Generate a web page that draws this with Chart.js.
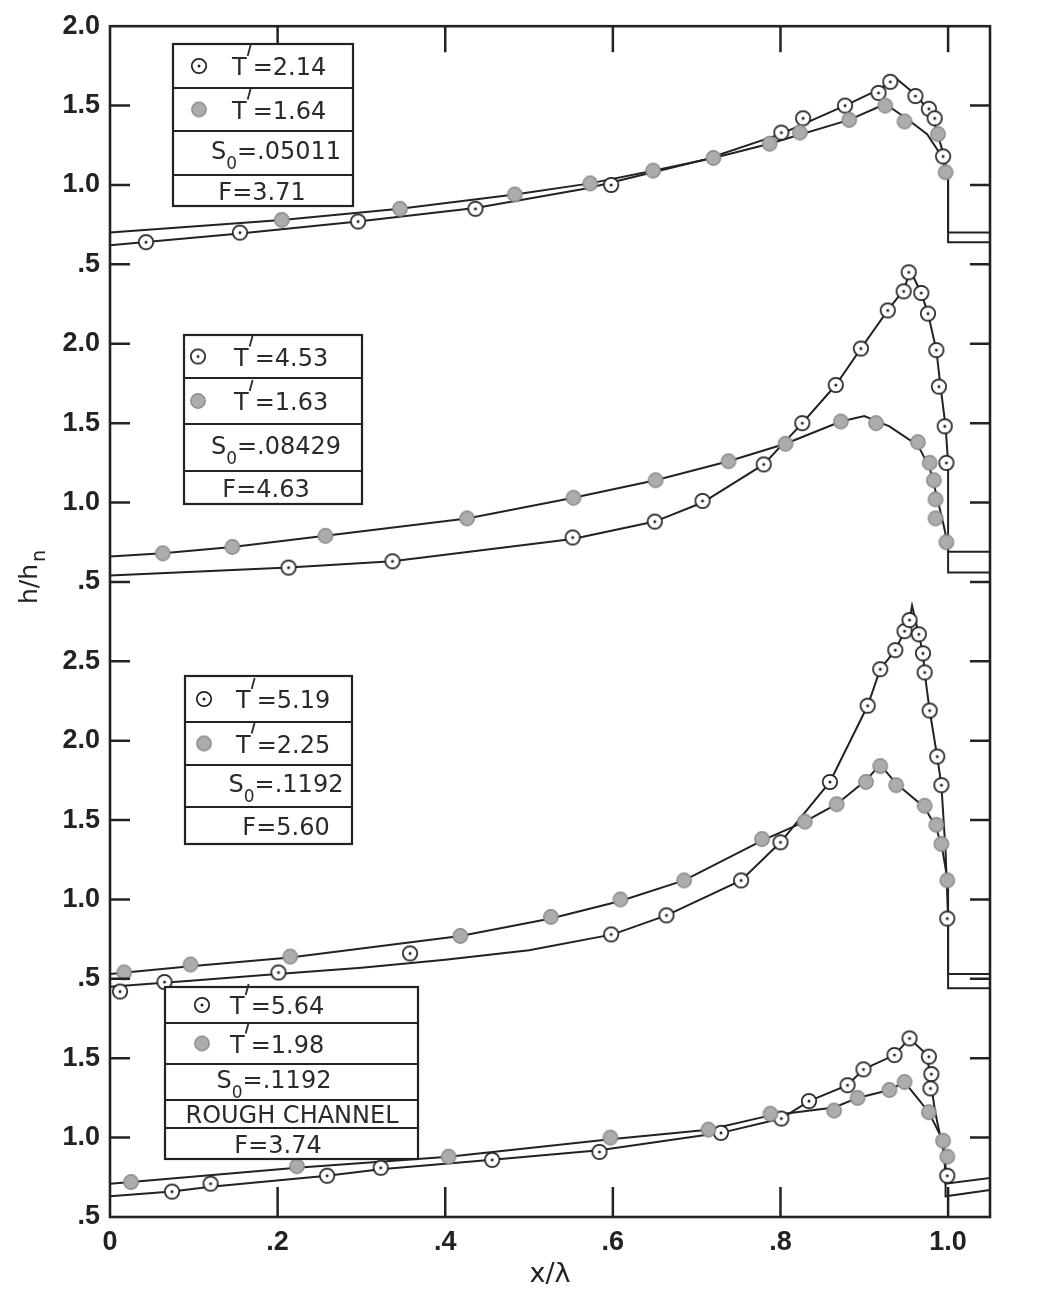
<!DOCTYPE html>
<html>
<head>
<meta charset="utf-8">
<script src="https://cdn.jsdelivr.net/npm/chart.js@4.4.1/dist/chart.umd.min.js"></script>
<style>
  html, body { margin: 0; background: #fff; }
  #wrap { width: 1042px; height: 1300px; }
</style>
</head>
<body>
<div id="wrap"><canvas id="chart" width="1042" height="1300"></canvas></div>
<script>
// x/lambda ticks and the stacked y ticks (bottom -> top, every 0.5 on the shared axis)
const xTicks = [0, 0.2, 0.4, 0.6, 0.8, 1.0];
const xTickLabels = ['0', '.2', '.4', '.6', '.8', '1.0'];
const yTicks = [0, 0.5, 1, 1.5, 2, 2.5, 3, 3.5, 4, 4.5, 5, 5.5, 6, 6.5, 7, 7.5];
const yTickLabels = ['.5', '1.0', '1.5', '.5', '1.0', '1.5', '2.0', '2.5', '.5', '1.0', '1.5', '2.0', '.5', '1.0', '1.5', '2.0'];
// h/hn of each panel is shifted by this amount on the shared axis (top panel first)
const panelOffsets = [5.5, 3.5, 1.0, -0.5];

// legend texts
const openT = ['2.14', '4.53', '5.19', '5.64'];
const fillT = ['1.64', '1.63', '2.25', '1.98'];
const slopes = ['.05011', '.08429', '.1192', '.1192'];
const froude = ['3.71', '4.63', '5.60', '3.74'];

// panel 1 : S0 = .05011
const p1OpenX = [0.043, 0.155, 0.296, 0.436, 0.598, 0.801, 0.827, 0.877, 0.917, 0.931, 0.961, 0.977, 0.984, 0.994];
const p1OpenY = [0.64, 0.70, 0.77, 0.85, 1.00, 1.33, 1.42, 1.50, 1.58, 1.65, 1.56, 1.48, 1.42, 1.18];
const p1FillX = [0.205, 0.346, 0.483, 0.573, 0.648, 0.720, 0.787, 0.823, 0.882, 0.925, 0.948, 0.988, 0.997];
const p1FillY = [0.78, 0.85, 0.94, 1.01, 1.09, 1.17, 1.26, 1.33, 1.41, 1.50, 1.40, 1.32, 1.08];
const p1OpenCurveX = [0, 0.155, 0.296, 0.436, 0.57, 0.71, 0.80, 0.877, 0.917, 0.938, 0.961, 0.98, 0.992, 1.0, 1.0, 1.05];
const p1OpenCurveY = [0.62, 0.695, 0.77, 0.855, 0.98, 1.16, 1.32, 1.50, 1.60, 1.67, 1.57, 1.45, 1.24, 1.06, 0.64, 0.64];
const p1FillCurveX = [0, 0.205, 0.346, 0.483, 0.573, 0.648, 0.72, 0.787, 0.882, 0.925, 0.95, 0.975, 0.99, 1.0, 1.0, 1.05];
const p1FillCurveY = [0.70, 0.78, 0.85, 0.94, 1.01, 1.09, 1.17, 1.26, 1.41, 1.51, 1.42, 1.32, 1.20, 1.06, 0.70, 0.70];

// panel 2 : S0 = .08429
const p2OpenX = [0.213, 0.337, 0.552, 0.650, 0.707, 0.780, 0.826, 0.866, 0.896, 0.928, 0.947, 0.953, 0.968, 0.976, 0.986, 0.989, 0.996, 0.998];
const p2OpenY = [0.59, 0.63, 0.78, 0.88, 1.01, 1.24, 1.50, 1.74, 1.97, 2.21, 2.33, 2.45, 2.32, 2.19, 1.96, 1.73, 1.48, 1.25];
const p2FillX = [0.063, 0.146, 0.257, 0.426, 0.553, 0.651, 0.738, 0.806, 0.872, 0.914, 0.964, 0.978, 0.983, 0.985, 0.985, 0.998];
const p2FillY = [0.68, 0.72, 0.79, 0.90, 1.03, 1.14, 1.26, 1.37, 1.51, 1.50, 1.38, 1.25, 1.14, 1.02, 0.90, 0.75];
const p2OpenCurveX = [0, 0.213, 0.337, 0.552, 0.65, 0.707, 0.78, 0.826, 0.866, 0.896, 0.928, 0.947, 0.955, 0.968, 0.976, 0.986, 0.991, 0.997, 1.0, 1.0, 1.05];
const p2OpenCurveY = [0.54, 0.59, 0.63, 0.77, 0.88, 1.00, 1.24, 1.50, 1.74, 1.97, 2.21, 2.34, 2.46, 2.32, 2.19, 1.96, 1.73, 1.48, 1.25, 0.56, 0.56];
const p2FillCurveX = [0, 0.063, 0.146, 0.257, 0.426, 0.553, 0.651, 0.738, 0.806, 0.872, 0.90, 0.93, 0.964, 0.978, 0.986, 0.995, 1.0, 1.0, 1.05];
const p2FillCurveY = [0.66, 0.68, 0.72, 0.79, 0.90, 1.03, 1.14, 1.26, 1.37, 1.51, 1.545, 1.48, 1.36, 1.22, 1.05, 0.85, 0.72, 0.69, 0.69];

// panel 3 : S0 = .1192
const p3OpenX = [0.012, 0.065, 0.201, 0.358, 0.598, 0.664, 0.753, 0.800, 0.859, 0.904, 0.919, 0.937, 0.948, 0.954, 0.965, 0.970, 0.972, 0.978, 0.987, 0.992, 0.999];
const p3OpenY = [0.42, 0.48, 0.54, 0.66, 0.78, 0.90, 1.12, 1.36, 1.74, 2.22, 2.45, 2.57, 2.69, 2.76, 2.67, 2.55, 2.43, 2.19, 1.90, 1.72, 0.88];
const p3FillX = [0.017, 0.096, 0.215, 0.418, 0.526, 0.609, 0.685, 0.778, 0.829, 0.867, 0.902, 0.919, 0.938, 0.972, 0.986, 0.992, 0.999];
const p3FillY = [0.54, 0.59, 0.64, 0.77, 0.89, 1.00, 1.12, 1.38, 1.49, 1.60, 1.74, 1.84, 1.72, 1.59, 1.47, 1.35, 1.12];
const p3OpenCurveX = [0, 0.1, 0.2, 0.3, 0.4, 0.5, 0.6, 0.664, 0.753, 0.80, 0.859, 0.904, 0.919, 0.937, 0.948, 0.954, 0.957, 0.965, 0.970, 0.972, 0.978, 0.987, 0.992, 0.997, 1.0, 1.0, 1.05];
const p3OpenCurveY = [0.45, 0.49, 0.53, 0.57, 0.62, 0.68, 0.78, 0.90, 1.12, 1.36, 1.74, 2.22, 2.45, 2.57, 2.69, 2.76, 2.85, 2.67, 2.55, 2.43, 2.19, 1.90, 1.72, 1.30, 0.88, 0.44, 0.44];
const p3FillCurveX = [0, 0.096, 0.215, 0.418, 0.526, 0.609, 0.685, 0.778, 0.829, 0.867, 0.902, 0.919, 0.938, 0.972, 0.986, 0.993, 1.0, 1.0, 1.05];
const p3FillCurveY = [0.53, 0.58, 0.635, 0.77, 0.88, 0.99, 1.12, 1.37, 1.49, 1.60, 1.75, 1.85, 1.73, 1.58, 1.45, 1.32, 1.10, 0.53, 0.53];

// panel 4 : rough channel
const p4OpenX = [0.074, 0.120, 0.259, 0.323, 0.456, 0.584, 0.729, 0.801, 0.834, 0.880, 0.899, 0.936, 0.954, 0.977, 0.980, 0.979, 0.999];
const p4OpenY = [0.66, 0.71, 0.76, 0.81, 0.86, 0.91, 1.03, 1.12, 1.23, 1.33, 1.43, 1.52, 1.625, 1.51, 1.40, 1.31, 0.76];
const p4FillX = [0.025, 0.223, 0.404, 0.597, 0.714, 0.788, 0.864, 0.892, 0.930, 0.948, 0.977, 0.994, 0.999];
const p4FillY = [0.72, 0.82, 0.88, 1.00, 1.05, 1.15, 1.17, 1.25, 1.30, 1.35, 1.16, 0.98, 0.88];
const p4OpenCurveX = [0, 0.074, 0.120, 0.259, 0.323, 0.456, 0.584, 0.729, 0.801, 0.834, 0.880, 0.899, 0.936, 0.954, 0.975, 0.980, 0.985, 0.995, 0.997, 0.997, 1.05];
const p4OpenCurveY = [0.63, 0.66, 0.69, 0.76, 0.80, 0.86, 0.92, 1.03, 1.12, 1.23, 1.33, 1.43, 1.52, 1.625, 1.52, 1.32, 1.15, 0.90, 0.76, 0.63, 0.67];
const p4FillCurveX = [0, 0.025, 0.223, 0.404, 0.597, 0.714, 0.788, 0.864, 0.892, 0.930, 0.948, 0.977, 0.994, 0.997, 0.997, 1.05];
const p4FillCurveY = [0.71, 0.72, 0.81, 0.88, 0.99, 1.05, 1.14, 1.19, 1.25, 1.30, 1.35, 1.16, 0.98, 0.85, 0.71, 0.745];

const panels = [
    { open: [p1OpenX, p1OpenY], fill: [p1FillX, p1FillY], openCurve: [p1OpenCurveX, p1OpenCurveY], fillCurve: [p1FillCurveX, p1FillCurveY] },
    { open: [p2OpenX, p2OpenY], fill: [p2FillX, p2FillY], openCurve: [p2OpenCurveX, p2OpenCurveY], fillCurve: [p2FillCurveX, p2FillCurveY] },
    { open: [p3OpenX, p3OpenY], fill: [p3FillX, p3FillY], openCurve: [p3OpenCurveX, p3OpenCurveY], fillCurve: [p3FillCurveX, p3FillCurveY] },
    { open: [p4OpenX, p4OpenY], fill: [p4FillX, p4FillY], openCurve: [p4OpenCurveX, p4OpenCurveY], fillCurve: [p4FillCurveX, p4FillCurveY] }
];

const INK = '#222';
const FONT = "'DejaVu Sans', sans-serif";
const AXIS_FONT = "'Liberation Sans', Arial, sans-serif";

function makeMarker(filled) {
    const c = document.createElement('canvas');
    c.width = 18;
    c.height = 18;
    const g = c.getContext('2d');
    g.beginPath();
    g.arc(9, 9, 7.2, 0, Math.PI * 2);
    g.fillStyle = filled ? '#acacac' : '#fff';
    g.fill();
    g.lineWidth = filled ? 1.4 : 1.7;
    g.strokeStyle = filled ? '#8a8a8a' : INK;
    g.stroke();
    if (!filled) {
        g.beginPath();
        g.arc(9, 9, 1.5, 0, Math.PI * 2);
        g.fillStyle = INK;
        g.fill();
    }
    return c;
}
const openMarker = makeMarker(false);
const fillMarker = makeMarker(true);

function toPoints(pair, offset) {
    return pair[0].map((x, i) => ({ x: x, y: pair[1][i] + offset }));
}

const datasets = [];
panels.forEach((p, k) => {
    const off = panelOffsets[k];
    datasets.push({ data: toPoints(p.fill, off), pointStyle: fillMarker, pointRadius: 7, showLine: false, order: 0, clip: false });
    datasets.push({ data: toPoints(p.open, off), pointStyle: openMarker, pointRadius: 7, showLine: false, order: 0, clip: false });
    datasets.push({ data: toPoints(p.fillCurve, off), showLine: true, pointRadius: 0, borderColor: INK, borderWidth: 2, tension: 0, order: 1 });
    datasets.push({ data: toPoints(p.openCurve, off), showLine: true, pointRadius: 0, borderColor: INK, borderWidth: 2, tension: 0, order: 1 });
});

// legend boxes: pixel layout only
const legendLayout = [
    { left: 173, right: 353, rows: [44, 88, 131, 175, 206], markX: 199, textX: 232, centers: [276, 262] },
    { left: 184, right: 362, rows: [335, 378, 424, 471, 504], markX: 198, textX: 234, centers: [276, 266] },
    { left: 185, right: 352, rows: [676, 722, 765, 807, 844], markX: 204, textX: 236, centers: [286, 286] },
    { left: 165, right: 418, rows: [987, 1023, 1064, 1100, 1128, 1159], markX: 202, textX: 230, centers: [274, 292, 278] }
];

function drawTPrime(ctx, x, yMid, value) {
    ctx.font = '24px ' + FONT;
    ctx.textAlign = 'left';
    ctx.textBaseline = 'alphabetic';
    const base = yMid + 9;
    ctx.fillText('T', x, base);
    const tw = ctx.measureText('T').width;
    ctx.beginPath();
    ctx.moveTo(x + tw + 1, base - 19);
    ctx.lineTo(x + tw + 4, base - 30);
    ctx.lineWidth = 1.8;
    ctx.stroke();
    ctx.fillText('=' + value, x + tw + 6, base);
}

function drawSlope(ctx, cx, yMid, value) {
    ctx.textBaseline = 'alphabetic';
    ctx.textAlign = 'left';
    ctx.font = '24px ' + FONT;
    const sW = ctx.measureText('S').width;
    const rest = '=' + value;
    const rW = ctx.measureText(rest).width;
    ctx.font = '17px ' + FONT;
    const zW = ctx.measureText('0').width;
    const start = cx - (sW + zW + rW) / 2;
    const base = yMid + 6;
    ctx.font = '24px ' + FONT;
    ctx.fillText('S', start, base);
    ctx.font = '17px ' + FONT;
    ctx.fillText('0', start + sW, base + 10);
    ctx.font = '24px ' + FONT;
    ctx.fillText(rest, start + sW + zW, base);
}

function drawCentered(ctx, cx, yMid, text) {
    ctx.font = '24px ' + FONT;
    ctx.textAlign = 'center';
    ctx.textBaseline = 'alphabetic';
    ctx.fillText(text, cx, yMid + 9);
}

const figurePlugin = {
    id: 'figure',
    afterDraw(chart) {
        const ctx = chart.ctx;
        const area = chart.chartArea;
        const xs = chart.scales.x;
        const ys = chart.scales.y;
        ctx.save();
        ctx.strokeStyle = INK;
        ctx.fillStyle = INK;

        // frame
        ctx.lineWidth = 2.6;
        ctx.strokeRect(area.left, area.top, area.right - area.left, area.bottom - area.top);

        // inward ticks
        ctx.lineWidth = 2.5;
        ctx.beginPath();
        yTicks.forEach((v) => {
            if (v === yTicks[0] || v === yTicks[yTicks.length - 1]) return;
            const py = ys.getPixelForValue(v);
            ctx.moveTo(area.left, py);
            ctx.lineTo(area.left + 20, py);
            ctx.moveTo(area.right - 20, py);
            ctx.lineTo(area.right, py);
        });
        xTicks.forEach((v) => {
            if (v === 0) return;
            const px = xs.getPixelForValue(v);
            ctx.moveTo(px, area.top);
            ctx.lineTo(px, area.top + 26);
            ctx.moveTo(px, area.bottom);
            ctx.lineTo(px, area.bottom - 30);
        });
        ctx.stroke();

        // y title h/hn
        ctx.save();
        ctx.translate(33, 577);
        ctx.rotate(-Math.PI / 2);
        ctx.font = '25px ' + FONT;
        ctx.textBaseline = 'alphabetic';
        ctx.textAlign = 'left';
        const hw = ctx.measureText('h/h').width;
        ctx.font = '19px ' + FONT;
        const nw = ctx.measureText('n').width;
        const s0 = -(hw + nw + 2) / 2;
        ctx.font = '25px ' + FONT;
        ctx.fillText('h/h', s0, 4);
        ctx.font = '19px ' + FONT;
        ctx.fillText('n', s0 + hw + 2, 12);
        ctx.restore();

        // legend boxes
        legendLayout.forEach((L, k) => {
            const r = L.rows;
            ctx.fillStyle = '#fff';
            ctx.fillRect(L.left, r[0], L.right - L.left, r[r.length - 1] - r[0]);
            ctx.strokeStyle = INK;
            ctx.lineWidth = 2.2;
            ctx.strokeRect(L.left, r[0], L.right - L.left, r[r.length - 1] - r[0]);
            ctx.beginPath();
            for (let i = 1; i < r.length - 1; i++) {
                ctx.moveTo(L.left, r[i]);
                ctx.lineTo(L.right, r[i]);
            }
            ctx.stroke();

            ctx.fillStyle = '#2a2a2a';
            ctx.strokeStyle = '#2a2a2a';
            const mid = (i) => (r[i] + r[i + 1]) / 2;
            ctx.drawImage(openMarker, L.markX - 9, mid(0) - 9);
            drawTPrime(ctx, L.textX, mid(0), openT[k]);
            ctx.drawImage(fillMarker, L.markX - 9, mid(1) - 9);
            drawTPrime(ctx, L.textX, mid(1), fillT[k]);
            drawSlope(ctx, L.centers[0], mid(2), slopes[k]);
            if (r.length === 6) {
                drawCentered(ctx, L.centers[1], mid(3), 'ROUGH CHANNEL');
                drawCentered(ctx, L.centers[2], mid(4), 'F=' + froude[k]);
            } else {
                drawCentered(ctx, L.centers[1], mid(3), 'F=' + froude[k]);
            }
        });
        ctx.restore();
    }
};

new Chart(document.getElementById('chart'), {
    type: 'scatter',
    data: { datasets: datasets },
    plugins: [figurePlugin],
    options: {
        responsive: false,
        animation: false,
        events: [],
        layout: { padding: { left: 0, right: 52, top: 26, bottom: 0 } },
        plugins: { legend: { display: false }, tooltip: { enabled: false } },
        scales: {
            x: {
                type: 'linear',
                min: 0,
                max: 1.05,
                afterBuildTicks: (s) => { s.ticks = xTicks.map((v) => ({ value: v })); },
                afterFit: (s) => { s.height = 83; },
                grid: { display: false, drawTicks: false },
                border: { display: false },
                ticks: {
                    autoSkip: false,
                    maxRotation: 0,
                    padding: 9,
                    color: INK,
                    font: { family: AXIS_FONT, size: 27, weight: 'bold' },
                    callback: (v, i) => xTickLabels[i]
                },
                title: { display: true, text: 'x/λ', color: INK, font: { family: FONT, size: 27 }, padding: { top: 0, bottom: 9 } }
            },
            y: {
                type: 'linear',
                min: 0,
                max: 7.5,
                afterBuildTicks: (s) => { s.ticks = yTicks.map((v) => ({ value: v })); },
                afterFit: (s) => { s.width = 110; },
                grid: { display: false, drawTicks: false },
                border: { display: false },
                ticks: {
                    autoSkip: false,
                    padding: 10,
                    color: INK,
                    font: { family: AXIS_FONT, size: 27, weight: 'bold' },
                    callback: (v, i) => yTickLabels[i]
                }
            }
        }
    }
});
</script>
</body>
</html>
